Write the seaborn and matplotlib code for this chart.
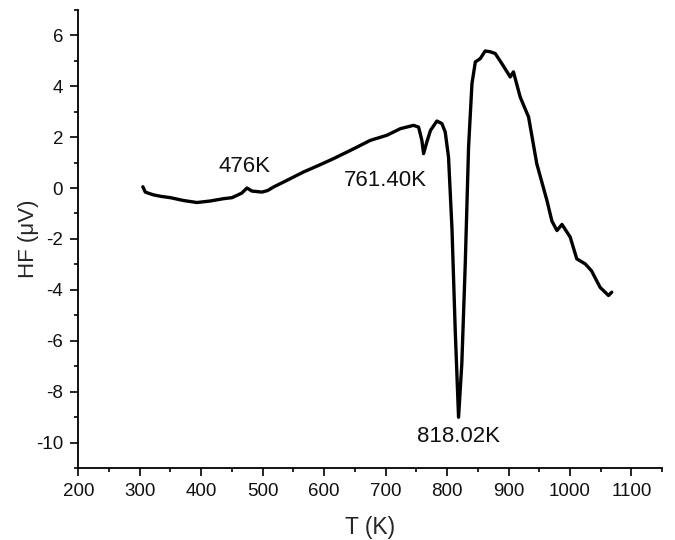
import matplotlib
matplotlib.use("Agg")
import matplotlib.pyplot as plt
import seaborn as sns
import numpy as np
import pandas as pd
from matplotlib.ticker import MultipleLocator

T = [305, 309, 316, 322.5, 335, 350, 371, 393, 414.7, 436, 450, 458, 466, 474.4, 482.5,
     498.8, 508, 517.7, 539.4, 566.5, 594, 615, 648, 675, 702, 724, 745.5, 753.7, 759,
     761.8, 767, 773, 783.5, 791.6, 797, 802.4, 808, 813.3, 818.7, 824, 829.6, 835,
     840.5, 846, 854, 862, 870, 878.4, 889, 902.8, 908, 919, 932.6, 946, 962.5, 970.6,
     978.8, 987, 1000.4, 1011, 1024.8, 1035, 1049, 1062.7, 1068]
HF = [0.05, -0.16, -0.22, -0.27, -0.33, -0.38, -0.49, -0.57, -0.51, -0.42, -0.38, -0.29,
      -0.2, 0.0, -0.12, -0.16, -0.1, 0.04, 0.3, 0.63, 0.92, 1.15, 1.54, 1.87, 2.07, 2.33,
      2.46, 2.39, 1.87, 1.35, 1.8, 2.26, 2.63, 2.53, 2.2, 1.21, -1.6, -5.6, -9.0, -6.9,
      -2.98, 1.61, 4.1, 4.95, 5.08, 5.38, 5.35, 5.28, 4.89, 4.36, 4.56, 3.57, 2.79, 0.95,
      -0.49, -1.3, -1.67, -1.43, -1.93, -2.78, -2.98, -3.25, -3.9, -4.22, -4.09]

labels = ["476K", "761.40K", "818.02K"]
label_x = [471, 700, 818]
label_y = [0.85, 0.3, -9.75]

sns.set_theme(style="ticks")
plt.rcParams["font.family"] = ["Liberation Sans", "DejaVu Sans"]

fig = plt.figure(figsize=(6.75, 5.4), dpi=100)
ax = fig.add_axes([0.116, 0.133, 0.865, 0.849])

df = pd.DataFrame({"T": T, "HF": HF})
sns.lineplot(data=df, x="T", y="HF", sort=False, color="black", linewidth=2.4, ax=ax)

for s, xx, yy in zip(labels, label_x, label_y):
    ax.text(xx, yy, s, ha="center", va="center", fontsize=16, color="#111111")

ax.set_xlim(200, 1150)
ax.set_ylim(-11, 7)
ax.xaxis.set_major_locator(MultipleLocator(100))
ax.xaxis.set_minor_locator(MultipleLocator(50))
ax.yaxis.set_major_locator(MultipleLocator(2))
ax.yaxis.set_minor_locator(MultipleLocator(1))
ax.tick_params(axis="both", which="major", direction="out", length=6, width=1.2,
               labelsize=13.5, color="black", labelcolor="#111111", pad=5)
ax.tick_params(axis="both", which="minor", direction="out", length=3, width=1.2, color="black")
ax.set_yticks([6, 4, 2, 0, -2, -4, -6, -8, -10])
ax.set_yticklabels(["6", "4", "2", "0", "-2", "-4", "-6", "-8", "-10"])

for side in ["top", "right"]:
    ax.spines[side].set_visible(False)
for side in ["left", "bottom"]:
    ax.spines[side].set_linewidth(1.3)
    ax.spines[side].set_color("black")

ax.set_xlabel("T (K)", fontsize=16.5, labelpad=11)
ax.set_ylabel("HF (μV)", fontsize=16, labelpad=-2)

fig.savefig("out.png", dpi=100)
